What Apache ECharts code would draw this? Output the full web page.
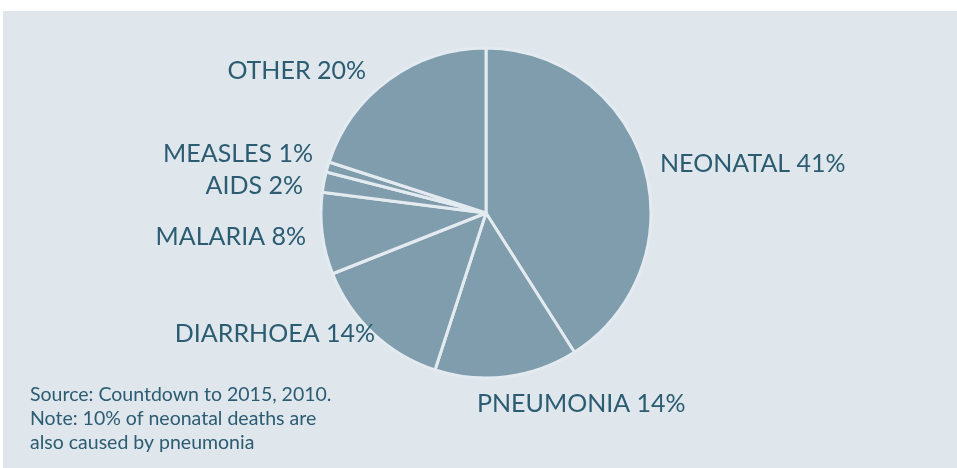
<!DOCTYPE html>
<html>
<head>
<meta charset="utf-8">
<script src="https://cdn.jsdelivr.net/npm/echarts@6/dist/echarts.min.js"></script>
<style>
  html, body { margin: 0; padding: 0; background: #ffffff; }
  #chart { position: absolute; left: 3px; top: 11px; width: 954px; height: 457px; background: #dfe6ec; }
</style>
</head>
<body>
<div id="chart"></div>
<script>
// Causes of child deaths, share of total (%)
const causes = ['NEONATAL', 'PNEUMONIA', 'DIARRHOEA', 'MALARIA', 'AIDS', 'MEASLES', 'OTHER'];
const shares = [41, 14, 14, 8, 2, 1, 20];
const noteLines = [
  'Source: Countdown to 2015, 2010.',
  'Note: 10% of neonatal deaths are',
  'also caused by pneumonia'
];

// Label anchor points (chart-local px): [x, y, align]
const labelAnchors = [
  [657, 153, 'left'],
  [474, 393, 'left'],
  [372, 323, 'right'],
  [303, 226, 'right'],
  [300, 175, 'right'],
  [310, 143, 'right'],
  [363, 60, 'right']
];

const textColor = '#2b5c72';
const chart = echarts.init(document.getElementById('chart'), null, { renderer: 'canvas' });

chart.setOption({
  backgroundColor: '#dfe6ec',
  animation: false,
  series: [{
    type: 'pie',
    center: [483, 202],
    radius: 165,
    startAngle: 90,
    clockwise: true,
    data: causes.map((name, i) => ({ name: name, value: shares[i] })),
    itemStyle: { color: '#7f9dad', borderColor: '#e4ebf0', borderWidth: 3 },
    label: {
      show: true,
      formatter: p => p.name + ' ' + p.value + '%',
      color: textColor,
      fontFamily: 'Lato, "Open Sans", sans-serif',
      fontSize: 25
    },
    labelLine: { show: false },
    labelLayout: p => {
      const a = labelAnchors[p.dataIndex];
      return { x: a[0], y: a[1], align: a[2], verticalAlign: 'middle' };
    },
    emphasis: { disabled: true }
  }],
  graphic: noteLines.map((t, i) => ({
    type: 'text',
    left: 27,
    top: 374 + i * 24,
    style: {
      text: t,
      fill: textColor,
      font: '19.5px Lato, "Open Sans", sans-serif'
    }
  }))
});
</script>
</body>
</html>
